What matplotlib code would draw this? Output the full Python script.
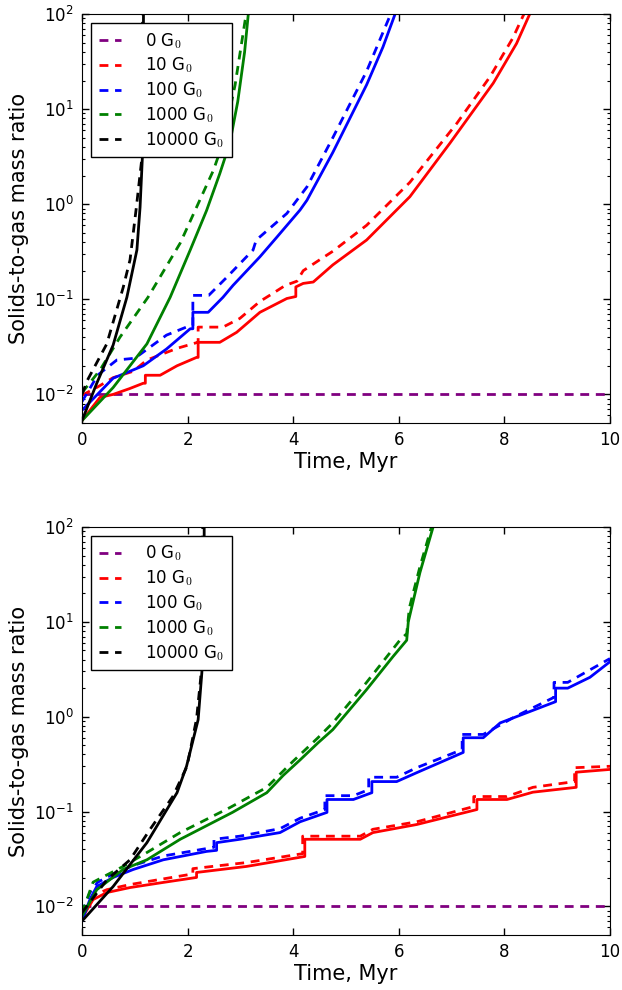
import matplotlib
matplotlib.use("Agg")
import matplotlib.pyplot as plt

plt.rcParams['font.family'] = ['DejaVu Sans']
plt.rcParams['mathtext.fontset'] = 'cm'

# ---- top panel ----
t_top_red = [0, 0.34, 0.59, 0.9, 1.16, 1.2, 1.2, 1.48, 1.8, 2.17, 2.2, 2.2, 2.61, 2.93, 3.37, 3.88, 4.05, 4.05,
             4.19, 4.38, 4.75, 5.39, 6.21, 6.97, 7.79, 8.23, 8.48]
y_top_red = [0.0053, 0.0093, 0.010, 0.0115, 0.0131, 0.0131, 0.0159, 0.0159, 0.020, 0.0245, 0.0245, 0.0353, 0.0353,
             0.045, 0.073, 0.102, 0.107, 0.135, 0.147, 0.152, 0.23, 0.42, 1.2, 4.4, 18.8, 49, 100]
t_top_red_d = [0, 0.3, 0.59, 0.97, 1.23, 1.8, 2.17, 2.2, 2.2, 2.67, 2.99, 3.37, 3.62, 3.85, 4.07, 4.19, 4.5, 4.75,
               5.39, 6.21, 7.1, 7.73, 8.16, 8.37]
y_top_red_d = [0.0098, 0.012, 0.015, 0.0175, 0.023, 0.0305, 0.035, 0.035, 0.051, 0.051, 0.063, 0.095, 0.116, 0.14,
               0.155, 0.20, 0.26, 0.32, 0.6, 1.7, 7.1, 22, 56, 100]

t_top_blue = [0, 0.59, 1.16, 1.6, 2.05, 2.1, 2.1, 2.39, 2.67, 2.86, 3.37, 3.69, 4.13, 4.26, 4.75, 5.39, 5.7, 5.93]
y_top_blue = [0.0068, 0.0148, 0.020, 0.030, 0.049, 0.049, 0.073, 0.073, 0.105, 0.14, 0.28, 0.45, 0.87, 1.1, 3.5,
              18, 45, 100]
t_top_blue_d = [0, 0.3, 0.66, 1.0, 1.6, 2.05, 2.1, 2.1, 2.4, 2.74, 3.24, 3.3, 3.88, 4.26, 4.75, 5.39, 5.83, 5.87]
y_top_blue_d = [0.0084, 0.016, 0.023, 0.024, 0.042, 0.053, 0.053, 0.11, 0.11, 0.17, 0.33, 0.42, 0.80, 1.52, 5.0,
                25, 95, 100]

t_top_green = [0, 0.59, 1.23, 1.67, 2.05, 2.36, 2.61, 2.8, 2.95, 3.08, 3.15]
y_top_green = [0.0053, 0.0118, 0.034, 0.105, 0.33, 0.86, 2.1, 4.4, 12, 40, 100]
t_top_green_d = [0, 0.34, 0.72, 1.25, 1.86, 2.17, 2.49, 2.67, 2.9, 3.09, 3.12]
y_top_green_d = [0.0104, 0.018, 0.040, 0.105, 0.39, 0.93, 2.28, 4.4, 18, 86, 100]

t_top_black = [0, 0.28, 0.59, 0.85, 1.04, 1.1, 1.15, 1.16, 1.165]
y_top_black = [0.0053, 0.0131, 0.033, 0.105, 0.33, 0.93, 3.7, 10, 120]
t_top_black_d = [0, 0.1, 0.47, 0.78, 0.91, 1.03, 1.13, 1.15]
y_top_black_d = [0.010, 0.014, 0.034, 0.133, 0.26, 0.93, 2.9, 120]

# ---- bottom panel ----
t_bot_red = [0, 0.21, 0.47, 0.91, 1.54, 2.17, 2.17, 3.12, 4.22, 4.22, 5.27, 5.51, 6.34, 7.48, 7.48, 8.05, 8.54,
             9.36, 9.36, 10]
y_bot_red = [0.0075, 0.0118, 0.014, 0.0158, 0.0179, 0.0202, 0.0228, 0.0264, 0.0336, 0.051, 0.051, 0.060, 0.073,
             0.105, 0.134, 0.134, 0.16, 0.18, 0.26, 0.278]
t_bot_red_d = [0, 0.21, 0.47, 0.91, 1.54, 2.1, 2.1, 3.12, 4.18, 4.18, 5.27, 5.51, 6.34, 7.42, 7.42, 8.05, 8.54,
               9.33, 9.33, 10]
y_bot_red_d = [0.0085, 0.013, 0.015, 0.017, 0.0195, 0.022, 0.025, 0.029, 0.036, 0.055, 0.055, 0.065, 0.078,
               0.113, 0.144, 0.144, 0.18, 0.207, 0.29, 0.30]

t_bot_blue = [0, 0.15, 0.28, 0.59, 0.97, 1.54, 2.36, 2.55, 2.55, 2.99, 3.75, 4.13, 4.64, 4.64, 5.14, 5.49, 5.49,
              5.96, 6.34, 7.22, 7.22, 7.6, 7.92, 8.97, 8.97, 9.2, 9.62, 10]
y_bot_blue = [0.007, 0.0118, 0.0162, 0.0202, 0.0245, 0.031, 0.038, 0.039, 0.047, 0.051, 0.060, 0.078, 0.098,
              0.134, 0.134, 0.158, 0.207, 0.207, 0.257, 0.42, 0.60, 0.60, 0.86, 1.44, 2.0, 2.0, 2.6, 3.8]
t_bot_blue_d = [0, 0.15, 0.3, 0.59, 0.97, 1.54, 2.5, 2.5, 2.99, 3.75, 4.13, 4.6, 4.6, 5.14, 5.43, 5.43, 5.96,
                6.34, 7.2, 7.2, 7.6, 8.2, 8.94, 8.94, 9.2, 10]
y_bot_blue_d = [0.0085, 0.014, 0.018, 0.022, 0.027, 0.034, 0.042, 0.051, 0.055, 0.066, 0.085, 0.105, 0.147,
                0.147, 0.17, 0.23, 0.23, 0.29, 0.45, 0.65, 0.65, 1.0, 1.6, 2.3, 2.3, 4.1]

t_bot_green = [0, 0.28, 0.78, 1.23, 1.86, 2.85, 3.5, 3.81, 4.13, 4.47, 4.75, 5.39, 5.89, 6.15, 6.18, 6.4, 6.65]
y_bot_green = [0.0079, 0.015, 0.0245, 0.031, 0.051, 0.098, 0.158, 0.24, 0.35, 0.53, 0.73, 1.93, 4.3, 6.4, 10,
               33, 100]
t_bot_green_d = [0, 0.21, 0.78, 1.23, 1.86, 2.8, 3.5, 4.0, 4.47, 4.75, 5.39, 6.02, 6.15, 6.2, 6.4, 6.62]
y_bot_green_d = [0.0085, 0.018, 0.0264, 0.037, 0.060, 0.11, 0.18, 0.34, 0.6, 0.86, 2.3, 6.4, 7.5, 14, 38, 100]

t_bot_black = [0, 0.59, 1.23, 1.8, 1.98, 2.2, 2.27, 2.31, 2.315]
y_bot_black = [0.007, 0.0162, 0.047, 0.158, 0.30, 0.93, 2.9, 10, 120]
t_bot_black_d = [0, 0.47, 0.91, 1.29, 1.72, 1.99, 2.17, 2.25, 2.29]
y_bot_black_d = [0.0086, 0.019, 0.031, 0.065, 0.144, 0.30, 0.95, 2.6, 120]

t_const = [0, 10]
y_const = [0.01, 0.01]

labels = ['0 G$_0$', '10 G$_0$', '100 G$_0$', '1000 G$_0$', '10000 G$_0$']
colors = ['purple', 'red', 'blue', 'green', 'black']

top = {'red': (t_top_red, y_top_red, t_top_red_d, y_top_red_d),
       'blue': (t_top_blue, y_top_blue, t_top_blue_d, y_top_blue_d),
       'green': (t_top_green, y_top_green, t_top_green_d, y_top_green_d),
       'black': (t_top_black, y_top_black, t_top_black_d, y_top_black_d)}
bot = {'red': (t_bot_red, y_bot_red, t_bot_red_d, y_bot_red_d),
       'blue': (t_bot_blue, y_bot_blue, t_bot_blue_d, y_bot_blue_d),
       'green': (t_bot_green, y_bot_green, t_bot_green_d, y_bot_green_d),
       'black': (t_bot_black, y_bot_black, t_bot_black_d, y_bot_black_d)}

dash = (0, (3.2, 2.4))

fig = plt.figure(figsize=(6.22, 9.9), dpi=100)
ax1 = fig.add_axes([0.1318, 0.5727, 0.8489, 0.4131])
ax2 = fig.add_axes([0.1318, 0.0556, 0.8489, 0.4121])

for ax, data in [(ax1, top), (ax2, bot)]:
    ax.plot(t_const, y_const, color='purple', lw=2, ls=dash, label=labels[0])
    for c, lab in zip(colors[1:], labels[1:]):
        t, y, td, yd = data[c]
        ax.plot(t, y, color=c, lw=2)
        ax.plot(td, yd, color=c, lw=2, ls=dash, label=lab)

    ax.set_yscale('log')
    ax.set_xlim(0, 10)
    ax.set_ylim(5e-3, 1e2)
    ax.set_xticks([0, 2, 4, 6, 8, 10])
    ax.tick_params(which='both', direction='in', top=True, right=True, labelsize=12)
    ax.tick_params(which='major', length=5, width=1, pad=6)
    ax.tick_params(which='minor', length=2.5, width=0.8)
    ax.set_xlabel('Time, Myr', fontsize=15, labelpad=2)
    ax.set_ylabel('Solids-to-gas mass ratio', fontsize=15)
    leg = ax.legend(loc='upper left', fontsize=12, fancybox=False, framealpha=1,
                    edgecolor='black', handlelength=1.35, handletextpad=1.45,
                    labelspacing=0.3, borderpad=0.45, borderaxespad=0.55)
    leg.get_frame().set_linewidth(1.0)

fig.savefig('out.png', dpi=100)
